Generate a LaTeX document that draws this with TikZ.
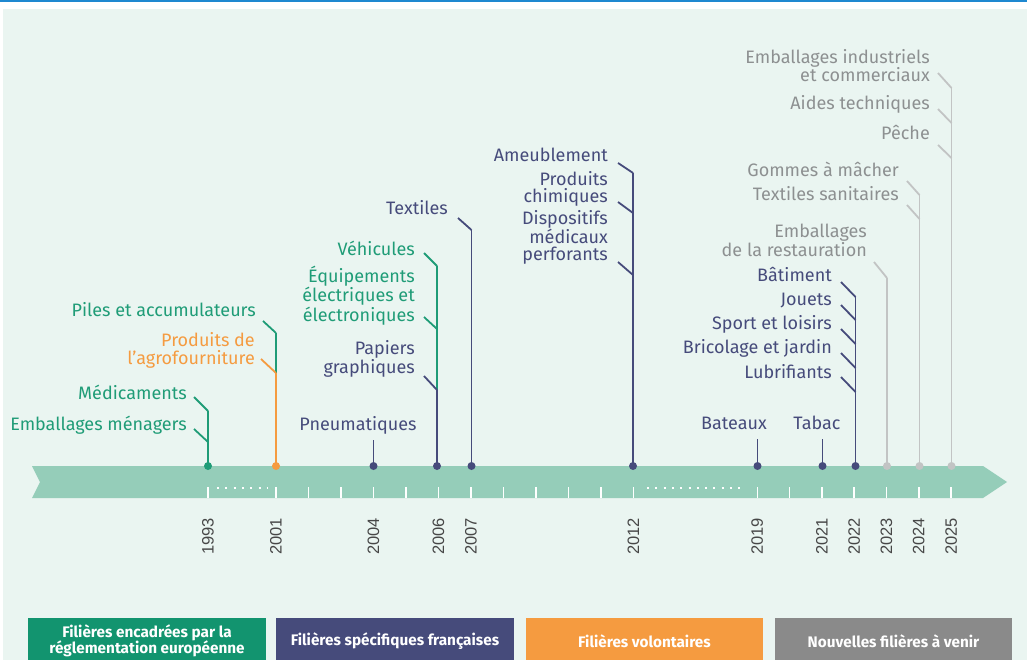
\documentclass[tikz,border=0pt]{standalone}
\usepackage{fontspec}
\setmainfont{Fira Sans}
\newfontfamily\yearfont{Liberation Sans}
\definecolor{bgc}{HTML}{EAF5F1}
\definecolor{bandc}{HTML}{95CDB9}
\definecolor{topblue}{HTML}{1E88D0}
\definecolor{euc}{HTML}{12946F}
\definecolor{eut}{HTML}{1F9C77}
\definecolor{frc}{HTML}{464B7B}
\definecolor{volc}{HTML}{F59B40}
\definecolor{newc}{HTML}{8A8A8A}
\definecolor{newl}{HTML}{C2C4C4}
\definecolor{newt}{HTML}{8D9091}
\definecolor{yearc}{HTML}{474747}
\tikzset{
  lab/.style={inner sep=0pt, align=right, anchor=base east, font=\fontsize{18}{17.5}\selectfont},
  labc/.style={inner sep=0pt, anchor=base, font=\fontsize{18}{17.5}\selectfont},
  conn/.style={line width=1.8pt},
  yr/.style={rotate=90, anchor=east, inner sep=0pt, text=yearc, font=\yearfont\fontsize{16.5}{16.5}\selectfont},
  tickc/.style={white, line width=1.6pt},
  leg/.style={minimum width=238pt, minimum height=46pt, inner sep=0pt, align=center, text=white, font=\bfseries\fontsize{15.3}{16.5}\selectfont},
  dot/.style={radius=4pt}
}
\begin{document}
\begin{tikzpicture}[x=1pt,y=-1pt]
\useasboundingbox (0,0) rectangle (1027,660);
\fill[white] (0,0) rectangle (1027,660);
\fill[topblue] (0,0) rectangle (1027,2.3);
\fill[bgc] (3,9) rectangle (1027,660);
% band
\fill[bandc] (32,466) -- (983,466) -- (1007,482) -- (983,498) -- (32,498) -- (40,482) -- cycle;
% ticks
\foreach \x in {208,276,308.5,341,373.5,406,438.5,471,503.5,536,568.5,601,633.5,757.3,789.6,821.9,854.2,886.5,918.8,951.1}
  \draw[tickc] (\x,487) -- (\x,498);
\draw[white, line width=2pt, dash pattern=on 2pt off 6.3pt] (217,488) -- (268,488);
\draw[white, line width=2pt, dash pattern=on 2pt off 6.3pt] (647,488) -- (745,488);
% years
\node[yr] (y1993) at (208,518) {1993};
\node[yr] (y2001) at (276,518) {2001};
\node[yr] (y2004) at (373.5,518) {2004};
\node[yr] (y2006) at (438.5,518) {2006};
\node[yr] (y2007) at (471,518) {2007};
\node[yr] (y2012) at (633.5,518) {2012};
\node[yr] (y2019) at (757.3,518) {2019};
\node[yr] (y2021) at (821.9,518) {2021};
\node[yr] (y2022) at (854.2,518) {2022};
\node[yr] (y2023) at (886.5,518) {2023};
\node[yr] (y2024) at (918.8,518) {2024};
\node[yr] (y2025) at (951.1,518) {2025};
% points on timeline
\coordinate (p1993) at (208,466);
\coordinate (p2001) at (276,466);
\coordinate (p2004) at (373.5,466);
\coordinate (p2006) at (437,466);
\coordinate (p2007) at (471.5,466);
\coordinate (p2012) at (633,466);
\coordinate (p2019) at (757.5,466);
\coordinate (p2021) at (822.5,466);
\coordinate (p2022) at (855.5,466);
\coordinate (p2023) at (887,466);
\coordinate (p2024) at (919.5,466);
\coordinate (p2025) at (951.5,466);
% ---------- 1993
\node[lab, text=eut] (med) at (187,399) {Médicaments};
\node[lab, text=eut] (emen) at (187,430) {Emballages ménagers};
\coordinate (s-med) at (194,397); \coordinate (j-med) at (208,411);
\coordinate (s-emen) at (194,429); \coordinate (j-emen) at (208,442);
\draw[conn, eut] (j-med) -- (p1993);
\draw[conn, eut] (s-med) -- (j-med);
\draw[conn, eut] (s-emen) -- (j-emen);
% ---------- 2001
\node[lab, text=eut] (piles) at (256,316) {Piles et accumulateurs};
\node[lab, text=volc] (agro) at (255,364) {Produits de\\l’agrofourniture};
\coordinate (s-piles) at (263,321); \coordinate (j-piles) at (276,333);
\coordinate (s-agro) at (261,359); \coordinate (j-agro) at (276,373);
\draw[conn, eut] (j-piles) -- (j-agro);
\draw[conn, volc] (j-agro) -- (p2001);
\draw[conn, eut] (s-piles) -- (j-piles);
\draw[conn, volc] (s-agro) -- (j-agro);
% ---------- 2004
\node[labc, text=frc] (pneu) at (358,430) {Pneumatiques};
\coordinate (j-pneu) at (373.5,440);
\draw[conn, frc] (j-pneu) -- (p2004);
% ---------- 2006
\node[lab, text=eut] (vehi) at (415,255) {Véhicules};
\node[lab, text=eut] (deee) at (415,321) {Équipements\\électriques et\\électroniques};
\node[lab, text=frc] (papi) at (415,373) {Papiers\\graphiques};
\coordinate (s-vehi) at (424,253); \coordinate (j-vehi) at (437,266);
\coordinate (s-deee) at (424,317); \coordinate (j-deee) at (437,329);
\coordinate (s-papi) at (424,376); \coordinate (j-papi) at (437,390);
\draw[conn, eut] (j-vehi) -- (j-papi);
\draw[conn, frc] (j-papi) -- (p2006);
\draw[conn, eut] (s-vehi) -- (j-vehi);
\draw[conn, eut] (s-deee) -- (j-deee);
\draw[conn, frc] (s-papi) -- (j-papi);
% ---------- 2007
\node[lab, text=frc] (text) at (448,215) {Textiles};
\coordinate (s-text) at (458,218); \coordinate (j-text) at (471.5,230);
\draw[conn, frc] (j-text) -- (p2007);
\draw[conn, frc] (s-text) -- (j-text);
% ---------- 2012
\node[lab, text=frc] (ameu) at (608,162) {Ameublement};
\node[lab, text=frc] (chim) at (608,203) {Produits\\chimiques};
\node[lab, text=frc] (disp) at (608,261) {Dispositifs\\médicaux\\perforants};
\coordinate (s-ameu) at (618,163); \coordinate (j-ameu) at (633,173);
\coordinate (s-chim) at (618,202); \coordinate (j-chim) at (633,213);
\coordinate (s-disp) at (618,262); \coordinate (j-disp) at (633,275);
\draw[conn, frc] (j-ameu) -- (p2012);
\draw[conn, frc] (s-ameu) -- (j-ameu);
\draw[conn, frc] (s-chim) -- (j-chim);
\draw[conn, frc] (s-disp) -- (j-disp);
% ---------- 2019, 2021
\node[labc, text=frc] (bate) at (734,429) {Bateaux};
\node[labc, text=frc] (taba) at (817,429) {Tabac};
\coordinate (j-bate) at (757.5,439);
\coordinate (j-taba) at (822.5,439);
\draw[conn, frc] (j-bate) -- (p2019);
\draw[conn, frc] (j-taba) -- (p2021);
% ---------- 2022
\node[lab, text=frc] (bati) at (832,281) {Bâtiment};
\node[lab, text=frc] (joue) at (832,305) {Jouets};
\node[lab, text=frc] (spor) at (832,329) {Sport et loisirs};
\node[lab, text=frc] (bric) at (832,353) {Bricolage et jardin};
\node[lab, text=frc] (lubr) at (832,378) {Lubrifiants};
\coordinate (s-bati) at (841,282); \coordinate (j-bati) at (855.5,297);
\coordinate (s-joue) at (841,305); \coordinate (j-joue) at (855.5,320);
\coordinate (s-spor) at (841,329); \coordinate (j-spor) at (855.5,344);
\coordinate (s-bric) at (841,353); \coordinate (j-bric) at (855.5,368);
\coordinate (s-lubr) at (841,377); \coordinate (j-lubr) at (855.5,392);
\draw[conn, frc] (j-bati) -- (p2022);
\foreach \n in {bati,joue,spor,bric,lubr} \draw[conn, frc] (s-\n) -- (j-\n);
% ---------- 2023
\node[lab, text=newt] (rest) at (867,256) {Emballages\\de la restauration};
\coordinate (s-rest) at (874,262); \coordinate (j-rest) at (887,278);
\draw[conn, newl] (j-rest) -- (p2023);
\draw[conn, newl] (s-rest) -- (j-rest);
% ---------- 2024
\node[lab, text=newt] (gomm) at (899,177) {Gommes à mâcher};
\node[lab, text=newt] (tsan) at (899,201) {Textiles sanitaires};
\coordinate (s-gomm) at (907,181); \coordinate (j-gomm) at (919.5,195);
\coordinate (s-tsan) at (907,205); \coordinate (j-tsan) at (919.5,219);
\draw[conn, newl] (j-gomm) -- (p2024);
\draw[conn, newl] (s-gomm) -- (j-gomm);
\draw[conn, newl] (s-tsan) -- (j-tsan);
% ---------- 2025
\node[lab, text=newt] (eic) at (930,82) {Emballages industriels\\et commerciaux};
\node[lab, text=newt] (aide) at (930,110) {Aides techniques};
\node[lab, text=newt] (pech) at (930,140) {Pêche};
\coordinate (s-eic) at (938,73); \coordinate (j-eic) at (951.5,88);
\coordinate (s-aide) at (938,109); \coordinate (j-aide) at (951.5,123);
\coordinate (s-pech) at (938,145); \coordinate (j-pech) at (951.5,158);
\draw[conn, newl] (j-eic) -- (p2025);
\foreach \n in {eic,aide,pech} \draw[conn, newl] (s-\n) -- (j-\n);
% dots
\fill[eut] (p1993) circle[dot];
\fill[volc] (p2001) circle[dot];
\foreach \p in {p2004,p2006,p2007,p2012,p2019,p2021,p2022} \fill[frc] (\p) circle[dot];
\foreach \p in {p2023,p2024,p2025} \fill[newl] (\p) circle[dot];
% legend (boxes run past the bottom edge, as in the reference)
\node[leg, fill=euc] (l-eu) at (147,641) {Filières encadrées par la\\réglementation européenne};
\node[leg, fill=frc] (l-fr) at (395,641) {Filières spécifiques françaises};
\node[leg, fill=volc, minimum width=237pt] (l-vol) at (644.5,641) {Filières volontaires};
\node[leg, fill=newc, minimum width=237pt] (l-new) at (893.5,641) {Nouvelles filières à venir};
\end{tikzpicture}
\end{document}
